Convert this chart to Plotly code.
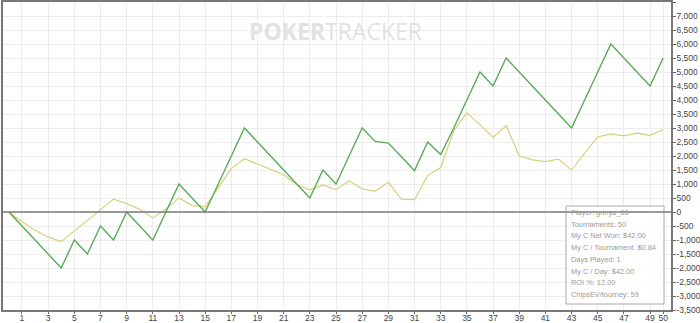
import plotly.graph_objects as go

# ---- data ----
tournaments = list(range(0, 51))
net_won = [0, -500, -1000, -1500, -2000, -1000, -1500, -500, -1000, 0,
           -500, -1000, 0, 1000, 500, 0, 1000, 2000, 3000, 2500,
           2000, 1500, 1000, 500, 1500, 1000, 2000, 3000, 2520, 2460,
           1970, 1470, 2500, 2050, 3000, 4000, 5000, 4500, 5500, 5000,
           4500, 4000, 3500, 3000, 4000, 5000, 6000, 5500, 5000, 4500,
           5500]
chips_ev = [0, -350, -650, -890, -1060, -680, -290, 110, 460, 300,
            100, -210, 110, 505, 230, 190, 860, 1550, 1900, 1710,
            1500, 1330, 970, 790, 970, 790, 1120, 820, 750, 1060,
            460, 440, 1300, 1590, 2900, 3540, 3120, 2660, 3080, 2010,
            1860, 1800, 1890, 1500, 2100, 2680, 2790, 2720, 2820, 2740,
            2940]
x_ticks = list(range(1, 50, 2)) + [50]
y_ticks = list(range(-3500, 7501, 500))
y_tick_text = [f"{v:,}" for v in y_ticks]
stats_lines = ["Player: grinya_86", "Tournaments: 50", "My C Net Won: $42.00",
               "My C / Tournament: $0.84", "Days Played: 1", "My C / Day: $42.00",
               "ROI %: 12.00", "ChipsEV/tourney: 59"]

FONT = "Open Sans"
TICK_FONT = "Liberation Sans"
STAT_FONT = "Liberation Sans"

# plot-area pixel geometry (used to place the stats box)
L, R, T, B = 3, 671, 2, 310
def px_x(p):
    return (p - L) / (R - L)
def px_y(p):
    return (B - p) / (B - T)

fig = go.Figure()
fig.add_trace(go.Scatter(x=tournaments, y=chips_ev, mode="lines",
                         line=dict(color="#d8cf7c", width=1.2), hoverinfo="skip"))
fig.add_trace(go.Scatter(x=tournaments, y=net_won, mode="lines",
                         line=dict(color="#5aab5a", width=1.4), hoverinfo="skip"))

# stats box
fig.add_shape(type="rect", xref="paper", yref="paper",
              x0=px_x(566), x1=px_x(664), y0=px_y(304), y1=px_y(206),
              line=dict(color="#aaaaaa", width=1), fillcolor="rgba(255,255,255,0.85)",
              layer="above")
# zero line
fig.add_shape(type="line", xref="paper", yref="y", x0=0, x1=1, y0=0, y1=0,
              line=dict(color="#7a7a7a", width=1.5), layer="above")

for i, line in enumerate(stats_lines):
    fig.add_annotation(xref="paper", yref="paper", x=px_x(568.5), y=px_y(212.5 + 11.7 * i),
                       xanchor="left", yanchor="middle", align="left", showarrow=False,
                       text=line, font=dict(family=STAT_FONT, size=7.4, color="#9a9a9a"))

# watermark
fig.add_annotation(xref="paper", yref="paper", x=px_x(247), y=px_y(31),
                   xanchor="left", yanchor="middle", showarrow=False,
                   text="<b>POKER</b>TRACKER",
                   font=dict(family=FONT, size=23, color="#e2e2e2"))

fig.update_layout(
    width=700, height=323,
    margin=dict(l=L, r=700 - R, t=T, b=323 - B),
    paper_bgcolor="white", plot_bgcolor="white",
    showlegend=False,
    font=dict(family=TICK_FONT, size=8.5, color="#444444"),
)
fig.update_xaxes(range=[-0.45, 50.6], tickvals=x_ticks, ticks="outside", ticklen=2,
                 tickcolor="#666666", showline=True, linecolor="#777777", linewidth=1.5,
                 mirror=True, showgrid=True, gridcolor="#ececec", gridwidth=1,
                 zeroline=False, tickfont=dict(family=TICK_FONT, size=8.5, color="#444444"),
                 ticklabelstandoff=-3, automargin=False)
fig.update_yaxes(range=[-3500, 7500], side="right", tickvals=y_ticks, ticktext=y_tick_text,
                 ticks="outside", ticklen=3, tickcolor="#666666", showline=True,
                 linecolor="#777777", linewidth=1.5, mirror=True, showgrid=True,
                 gridcolor="#ececec", gridwidth=1, zeroline=False,
                 tickfont=dict(family=TICK_FONT, size=8.5, color="#444444"),
                 ticklabelstandoff=-1, automargin=False)

fig.write_html("out.html")
